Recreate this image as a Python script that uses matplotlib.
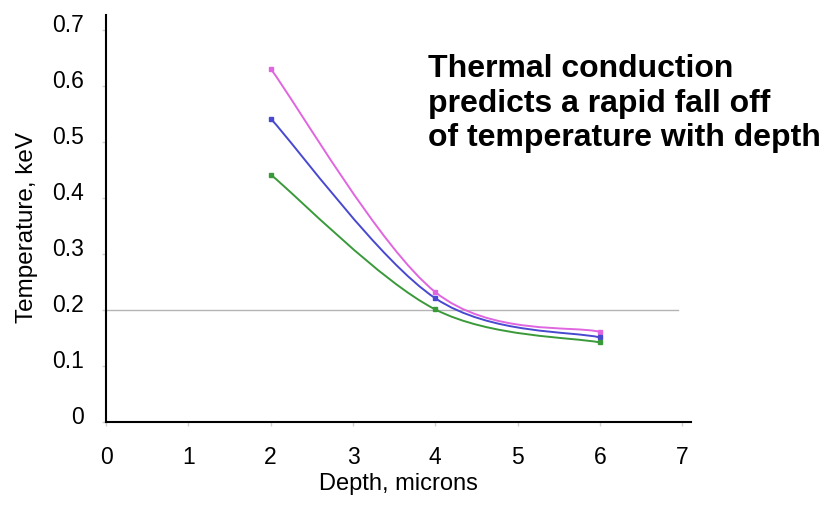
import numpy as np
import matplotlib
matplotlib.use('Agg')
import matplotlib.pyplot as plt
from matplotlib.path import Path
from matplotlib.patches import PathPatch
from matplotlib.transforms import ScaledTranslation

plt.rcParams['font.family'] = ['Liberation Sans', 'DejaVu Sans']

# depth (microns) and temperature (keV) for the three runs
depth = [2, 4, 6]
temp_pink = [0.631, 0.232, 0.161]
temp_blue = [0.542, 0.221, 0.151]
temp_green = [0.442, 0.201, 0.142]

ref_level = 0.2

xticks = [0, 1, 2, 3, 4, 5, 6, 7]
yticks = [0, 0.1, 0.2, 0.3, 0.4, 0.5, 0.6, 0.7]
ytick_labels = ['0', '0.1', '0.2', '0.3', '0.4', '0.5', '0.6', '0.7']


def smooth_path(x, y):
    """ Spreadsheet-style smoothed line: cubic bezier through every point """
    pts = np.column_stack([x, y]).astype(float)
    n = len(pts)
    verts = [pts[0]]
    codes = [Path.MOVETO]
    for i in range(n - 1):
        p0 = pts[max(i - 1, 0)]
        p1 = pts[i]
        p2 = pts[i + 1]
        p3 = pts[min(i + 2, n - 1)]
        c1 = p1 + (p2 - p0) / 6.0
        c2 = p2 - (p3 - p1) / 6.0
        verts += [c1, c2, p2]
        codes += [Path.CURVE4] * 3
    return Path(verts, codes)


fig = plt.figure(figsize=(8.22, 5.09), dpi=100)
ax = fig.add_axes([0.129, 0.171, 0.712, 0.7995])

# horizontal reference line
ax.plot([0, 6.95], [ref_level, ref_level], color='#b4b4b4', lw=1.0, zorder=1)

for yy, col in [(temp_pink, '#e066e0'), (temp_blue, '#4848d0'), (temp_green, '#3a9a3a')]:
    ax.add_patch(PathPatch(smooth_path(depth, yy), fill=False, edgecolor=col, lw=1.4, zorder=3))
    ax.plot(depth, yy, ls='none', marker='s', ms=3.2, color=col, zorder=4)

ax.set_xlim(0, 7.11)
ax.set_ylim(0, 0.727)
ax.set_xticks(xticks)
ax.set_yticks(yticks)
ax.set_yticklabels(ytick_labels)

for s in ['top', 'right']:
    ax.spines[s].set_visible(False)
for s in ['left', 'bottom']:
    ax.spines[s].set_linewidth(1.5)
    ax.spines[s].set_color('black')

ax.tick_params(axis='both', direction='out', length=3, width=1, color='#d0d0d0', labelsize=16.5)
ax.tick_params(axis='x', pad=14)
ax.tick_params(axis='y', pad=13)

# y tick labels sit a little above their tick marks
offset = ScaledTranslation(0, 7 / 100.0, fig.dpi_scale_trans)
for tick in ax.yaxis.get_major_ticks():
    tick.label1.set_transform(tick.label1.get_transform() + offset)

ax.set_xlabel('Depth, microns', fontsize=17, labelpad=3)
ax.set_ylabel('Temperature, keV', fontsize=17.5)
ax.yaxis.set_label_coords(-0.116, 0.478)

fig.text(428 / 822, 1 - 54 / 509,
         'Thermal conduction\npredicts a rapid fall off\nof temperature with depth',
         fontsize=23, fontweight='bold', ha='left', va='top', linespacing=1.2)

fig.savefig('out.png', dpi=100)
